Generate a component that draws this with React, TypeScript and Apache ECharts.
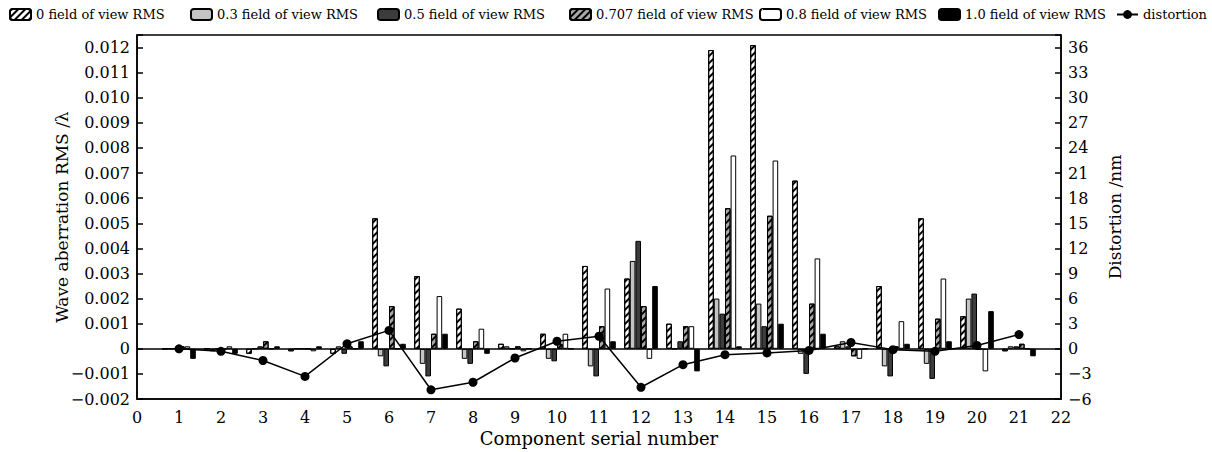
import React, { useEffect, useRef } from "react";
import * as echarts from "echarts";

const components = [1, 2, 3, 4, 5, 6, 7, 8, 9, 10, 11, 12, 13, 14, 15, 16, 17, 18, 19, 20, 21];

const seriesNames = [
  "0 field of view RMS",
  "0.3 field of view RMS",
  "0.5 field of view RMS",
  "0.707 field of view RMS",
  "0.8 field of view RMS",
  "1.0 field of view RMS",
];
const lineName = "distortion";

const fov0 = [0, 0, -0.0002, -0.0001, -0.0002, 0.0052, 0.0029, 0.0016, 0.0002, 0.0006, 0.0033, 0.0028, 0.001, 0.0119, 0.0121, 0.0067, 0.0001, 0.0025, 0.0052, 0.0013, -0.0001];
const fov03 = [0, -0.0001, 0, 0, 0.0001, -0.0003, -0.0006, -0.0004, 0.0001, -0.0004, -0.0007, 0.0035, 0, 0.002, 0.0018, -0.0002, 0.0003, -0.0007, -0.0006, 0.002, 0.0001];
const fov05 = [0, 0, 0.0001, 0, -0.0002, -0.0007, -0.0011, -0.0006, 0, -0.0005, -0.0011, 0.0043, 0.0003, 0.0014, 0.0009, -0.001, 0.0001, -0.0011, -0.0012, 0.0022, 0.0001];
const fov0707 = [0.0001, 0, 0.0003, 0, 0.0001, 0.0017, 0.0006, 0.0003, 0.0001, 0.0002, 0.0009, 0.0017, 0.0009, 0.0056, 0.0053, 0.0018, -0.0003, 0.0001, 0.0012, 0, 0.0002];
const fov08 = [0.0001, 0.0001, 0, -0.0001, 0, 0, 0.0021, 0.0008, -0.0001, 0.0006, 0.0024, -0.0004, 0.0009, 0.0077, 0.0075, 0.0036, -0.0004, 0.0011, 0.0028, -0.0009, 0];
const fov10 = [-0.0004, -0.0002, 0.0001, 0.0001, 0.0003, 0.0002, 0.0006, -0.0002, 0, 0, 0.0003, 0.0025, -0.0009, 0.0001, 0.001, 0.0006, 0, 0.0002, 0.0003, 0.0015, -0.0003];
const distortion = [0, -0.3, -1.4, -3.3, 0.6, 2.2, -4.9, -4.0, -1.1, 0.9, 1.5, -4.6, -1.9, -0.7, -0.5, -0.2, 0.75, -0.1, -0.3, 0.4, 1.7];

const barValues = [fov0, fov03, fov05, fov0707, fov08, fov10];

const FONT = "DejaVu Serif";
const legendLeft = [9, 190, 377, 569, 759, 938, 1116];

const hatch = {
  symbol: "rect",
  symbolSize: 1,
  dashArrayX: [1, 0],
  dashArrayY: [1.3, 3],
  rotation: -Math.PI / 4,
  color: "#000",
};

const barStyles: any[] = [
  { color: "#ffffff", decal: hatch },
  { color: "#c4c4c4" },
  { color: "#3c3c3c" },
  { color: "#a8a8a8", decal: hatch },
  { color: "#ffffff" },
  { color: "#000000" },
];

const minus = (s: string) => s.replace("-", "\u2212");

export default function App() {
  const ref = useRef<HTMLDivElement>(null);
  useEffect(() => {
    document.body.style.margin = "0";
    const chart = echarts.init(ref.current!, null, { renderer: "svg" });
    const bars = barValues.map((vals, i) => ({
      name: seriesNames[i],
      type: "bar",
      xAxisIndex: 0,
      yAxisIndex: 0,
      barWidth: 5.6,
      barGap: "0%",
      data: components.map((c, j) => [c, vals[j]]),
      itemStyle: { ...barStyles[i], borderColor: "#000", borderWidth: 1 },
      ...(i === 0
        ? {
            markLine: {
              silent: true,
              symbol: ["none", "none"],
              label: { show: false },
              lineStyle: { color: "#000", type: "solid", width: 1.5 },
              data: [{ yAxis: 0 }],
            },
          }
        : {}),
    }));
    const allNames = [...seriesNames, lineName];
    chart.setOption({
      animation: false,
      textStyle: { fontFamily: FONT, color: "#000" },
      legend: allNames.map((n, i) => ({
        data: [n],
        left: legendLeft[i],
        top: 8,
        padding: 0,
        itemWidth: 21,
        itemHeight: 11,
        itemGap: 0,
        selectedMode: false,
        textStyle: { fontFamily: FONT, fontSize: 13, color: "#000" },
      })),
      grid: {
        left: 137,
        right: 151,
        top: 35,
        bottom: 52,
        show: true,
        borderColor: "#000",
        borderWidth: 1.5,
      },
      xAxis: {
        type: "value",
        min: 0,
        max: 22,
        interval: 1,
        name: "Component serial number",
        nameLocation: "middle",
        nameGap: 30,
        nameMoveOverlap: false,
        nameTextStyle: { fontFamily: FONT, fontSize: 18, color: "#000" },
        axisLine: { onZero: false, lineStyle: { color: "#000", width: 1.5 } },
        axisTick: { show: false },
        splitLine: { show: false },
        axisLabel: { fontFamily: FONT, fontSize: 16, color: "#000", margin: 10 },
      },
      yAxis: [
        {
          type: "value",
          min: -0.002,
          max: 0.0125,
          interval: 0.001,
          name: "Wave aberration RMS /\u03bb",
          nameLocation: "middle",
          nameGap: 67,
          nameMoveOverlap: false,
          nameTextStyle: { fontFamily: FONT, fontSize: 17, color: "#000" },
          axisLine: { show: true, onZero: false, lineStyle: { color: "#000", width: 1.5 } },
          axisTick: { show: true, inside: true, length: 6, lineStyle: { color: "#000", width: 1.5 } },
          splitLine: { show: false },
          axisLabel: {
            fontFamily: FONT,
            fontSize: 16,
            color: "#000",
            margin: 7,
            formatter: (v: number) => {
              if (Math.abs(v - 0.0125) < 1e-9) return "";
              if (Math.abs(v) < 1e-12) return "0";
              return minus(v.toFixed(3));
            },
          },
        },
        {
          type: "value",
          min: -6,
          max: 37.5,
          interval: 3,
          position: "right",
          name: "Distortion /nm",
          nameLocation: "middle",
          nameGap: 45,
          nameMoveOverlap: false,
          nameTextStyle: { fontFamily: FONT, fontSize: 17, color: "#000" },
          axisLine: { show: true, onZero: false, lineStyle: { color: "#000", width: 1.5 } },
          axisTick: { show: true, inside: true, length: 6, lineStyle: { color: "#000", width: 1.5 } },
          splitLine: { show: false },
          axisLabel: {
            fontFamily: FONT,
            fontSize: 16,
            color: "#000",
            margin: 7,
            formatter: (v: number) => (Math.abs(v - 37.5) < 1e-9 ? "" : minus(String(v))),
          },
        },
      ],
      series: [
        ...bars,
        {
          name: lineName,
          type: "line",
          yAxisIndex: 1,
          data: components.map((c, j) => [c, distortion[j]]),
          symbol: "circle",
          symbolSize: 9,
          z: 10,
          itemStyle: { color: "#000" },
          lineStyle: { color: "#000", width: 1.5 },
        },
      ],
    });
    return () => chart.dispose();
  }, []);
  return <div ref={ref} style={{ width: 1212, height: 452 }} />;
}
